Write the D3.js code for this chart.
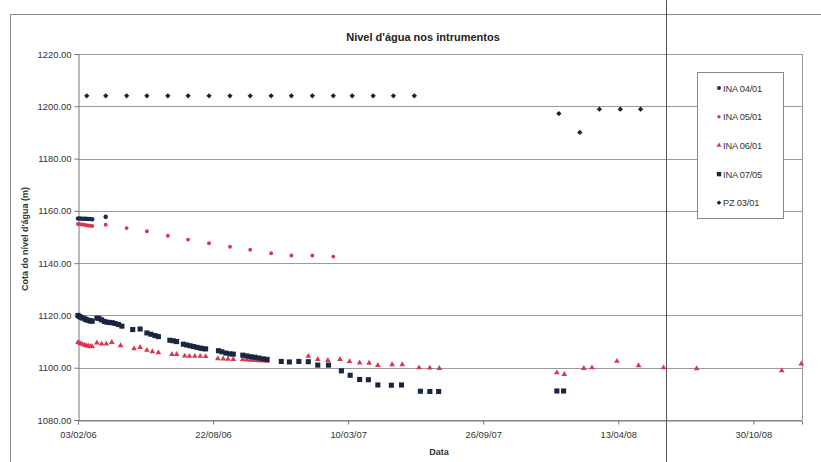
<!DOCTYPE html>
<html>
<head>
<meta charset="utf-8">
<script src="https://cdn.jsdelivr.net/npm/d3@7"></script>
<style>
  body { margin: 0; background: #fff; }
  svg { font-family: "Liberation Sans", Arial, sans-serif; }
</style>
</head>
<body>
<svg id="chart" width="821" height="462"></svg>
<script>
// tick labels
var xTickLabels = ["03/02/06", "22/08/06", "10/03/07", "26/09/07", "13/04/08", "30/10/08"];
var yTicks = [1080, 1100, 1120, 1140, 1160, 1180, 1200, 1220];
var xDomain = ["03/02/06", "10/01/09"];

// series: dates (dd/mm/yy) and levels (m)
var ina0401Dates = ["03/02/06","06/02/06","09/02/06","12/02/06","15/02/06","18/02/06","21/02/06","24/02/06","16/03/06"];
var ina0401Vals  = [1157.1,1157.1,1157.0,1157.0,1157.0,1156.9,1156.9,1156.8,1157.7];

var ina0501Dates = ["03/02/06","06/02/06","09/02/06","12/02/06","15/02/06","18/02/06","21/02/06","24/02/06",
  "16/03/06","16/04/06","16/05/06","16/06/06","16/07/06","16/08/06","16/09/06","16/10/06","16/11/06","16/12/06","16/01/07","16/02/07"];
var ina0501Vals  = [1155.0,1154.9,1154.8,1154.7,1154.5,1154.4,1154.3,1154.2,
  1154.7,1153.4,1152.2,1150.5,1149.0,1147.6,1146.3,1145.1,1143.8,1142.9,1142.9,1142.5];

var ina0601Dates = ["03/02/06","06/02/06","09/02/06","12/02/06","15/02/06","18/02/06","21/02/06","24/02/06",
  "03/03/06","10/03/06","17/03/06","25/03/06","07/04/06","27/04/06","06/05/06","16/05/06","24/05/06","02/06/06",
  "22/06/06","29/06/06","11/07/06","18/07/06","26/07/06","03/08/06","11/08/06",
  "29/08/06","06/09/06","13/09/06","21/09/06",
  "05/10/06","11/10/06","17/10/06","23/10/06","29/10/06","04/11/06","10/11/06",
  "10/01/07","24/01/07","08/02/07","26/02/07","12/03/07","27/03/07","10/04/07","23/04/07","14/05/07","29/05/07",
  "23/06/07","09/07/07","23/07/07",
  "13/01/08","24/01/08","22/02/08","05/03/08","11/04/08","13/05/08","19/06/08","07/08/08","11/12/08","09/01/09"];
var ina0601Vals  = [1109.7,1109.3,1109.0,1108.7,1108.5,1108.4,1108.2,1108.1,
  1109.5,1109.1,1109.1,1109.7,1108.5,1107.3,1107.8,1106.7,1106.2,1105.8,
  1105.1,1105.1,1104.5,1104.4,1104.4,1104.4,1104.3,
  1103.5,1103.4,1103.3,1103.2,
  1103.2,1103.0,1102.9,1102.8,1102.7,1102.6,1102.5,
  1104.4,1103.2,1102.8,1103.2,1102.4,1101.9,1101.8,1100.9,1101.2,1101.2,
  1100.0,1099.9,1099.8,
  1098.1,1097.5,1099.8,1100.0,1102.5,1100.8,1100.0,1099.7,1098.9,1101.5];

var ina0705Dates = ["03/02/06","05/02/06","07/02/06","10/02/06","13/02/06","15/02/06","17/02/06","20/02/06","22/02/06","24/02/06",
  "03/03/06","06/03/06","10/03/06","14/03/06","18/03/06","22/03/06","26/03/06","30/03/06","04/04/06","09/04/06",
  "25/04/06","06/05/06","16/05/06","22/05/06","28/05/06","02/06/06","19/06/06","24/06/06","29/06/06",
  "09/07/06","14/07/06","19/07/06","24/07/06","29/07/06","03/08/06","07/08/06","11/08/06",
  "30/08/06","04/09/06","10/09/06","16/09/06","21/09/06",
  "05/10/06","11/10/06","17/10/06","23/10/06","29/10/06","04/11/06","10/11/06",
  "01/12/06","13/12/06","27/12/06","10/01/07","24/01/07","09/02/07","28/02/07","13/03/07","27/03/07","09/04/07",
  "23/04/07","13/05/07","28/05/07","25/06/07","09/07/07","22/07/07","13/01/08","23/01/08"];
var ina0705Vals  = [1120.0,1119.6,1119.3,1119.0,1118.7,1118.4,1118.2,1118.0,1117.9,1117.8,
  1119.0,1118.8,1118.3,1117.7,1117.4,1117.3,1117.2,1116.9,1116.5,1115.9,
  1114.6,1114.8,1113.3,1112.8,1112.3,1111.9,1110.5,1110.3,1110.0,
  1109.0,1108.7,1108.4,1108.1,1107.8,1107.5,1107.3,1107.2,
  1106.5,1106.1,1105.6,1105.3,1105.2,
  1104.8,1104.5,1104.2,1104.0,1103.7,1103.4,1103.2,
  1102.4,1102.2,1102.4,1102.3,1101.0,1101.0,1098.8,1097.1,1095.5,1095.4,
  1093.4,1093.3,1093.4,1091.0,1090.9,1090.9,1091.1,1091.1];

var pz0301Dates = ["16/02/06","16/03/06","16/04/06","16/05/06","16/06/06","16/07/06","16/08/06","16/09/06","16/10/06",
  "16/11/06","16/12/06","16/01/07","16/02/07","16/03/07","16/04/07","16/05/07","16/06/07",
  "16/01/08","16/02/08","16/03/08","16/04/08","16/05/08"];
var pz0301Vals  = [1204.0,1204.0,1204.0,1204.0,1204.0,1204.0,1204.0,1204.0,1204.0,
  1204.0,1204.0,1204.0,1204.0,1204.0,1204.0,1204.0,1204.0,
  1197.2,1190.0,1198.9,1198.9,1198.9];

var seriesNames = ["INA 04/01", "INA 05/01", "INA 06/01", "INA 07/05", "PZ 03/01"];

var parse = d3.timeParse("%d/%m/%y");
var fmt = d3.timeFormat("%d/%m/%y");

// rot: rotate the marker (a square turned 45 deg gives an even diamond)
var series = [
  { name: seriesNames[0], dates: ina0401Dates, vals: ina0401Vals, color: "#1d2b4f", shape: d3.symbolCircle, size: 16, rot: 0 },
  { name: seriesNames[1], dates: ina0501Dates, vals: ina0501Vals, color: "#d8374f", shape: d3.symbolCircle, size: 12, rot: 0 },
  { name: seriesNames[2], dates: ina0601Dates, vals: ina0601Vals, color: "#d8374f", shape: d3.symbolTriangle, size: 14, rot: 0 },
  { name: seriesNames[3], dates: ina0705Dates, vals: ina0705Vals, color: "#1a2640", shape: d3.symbolSquare, size: 26, rot: 0 },
  { name: seriesNames[4], dates: pz0301Dates, vals: pz0301Vals, color: "#2a1b2c", shape: d3.symbolSquare, size: 14, rot: 45 }
];

var svg = d3.select("#chart");
var plotL = 78, plotR = 802, plotT = 54, plotB = 420;

var x = d3.scaleTime()
  .domain(xDomain.map(parse))
  .range([plotL, plotR]);
var y = d3.scaleLinear()
  .domain([1080, 1220])
  .range([plotB, plotT]);

// outer chart border
svg.append("path")
  .attr("d", "M10.5,462 V14.5 H821")
  .attr("fill", "none")
  .attr("stroke", "#888");

// gridlines
svg.append("g").selectAll("line")
  .data(yTicks)
  .enter().append("line")
  .attr("x1", plotL).attr("x2", plotR)
  .attr("y1", function(d) { return Math.round(y(d)) + 0.5; })
  .attr("y2", function(d) { return Math.round(y(d)) + 0.5; })
  .attr("stroke", "#9a9a9a");

// right edge of plot
svg.append("line")
  .attr("x1", plotR + 0.5).attr("x2", plotR + 0.5)
  .attr("y1", plotT).attr("y2", plotB)
  .attr("stroke", "#9a9a9a");

// axes
var yAxis = svg.append("g")
  .attr("transform", "translate(" + (plotL + 0.5) + ",0)")
  .call(d3.axisLeft(y).tickValues(yTicks).tickFormat(d3.format(".2f")).tickSize(4).tickPadding(3));
var xAxis = svg.append("g")
  .attr("transform", "translate(0," + (Math.round(y(1080)) + 0.5) + ")")
  .call(d3.axisBottom(x).tickValues(xTickLabels.map(parse)).tickFormat(fmt).tickSize(4).tickPadding(7));

[yAxis, xAxis].forEach(function(a) {
  a.select(".domain").attr("stroke", "#777");
  a.selectAll(".tick line").attr("stroke", "#777");
  a.selectAll(".tick text").attr("fill", "#333").style("font-size", "9.4px");
});

// points
series.forEach(function(s) {
  svg.append("g").selectAll("path")
    .data(s.dates.map(function(d, i) { return { date: parse(d), val: s.vals[i] }; }))
    .enter().append("path")
    .attr("d", d3.symbol().type(s.shape).size(s.size))
    .attr("transform", function(d) { return "translate(" + x(d.date) + "," + y(d.val) + ") rotate(" + s.rot + ")"; })
    .attr("fill", s.color);
});

// titles
svg.append("text")
  .attr("x", 423).attr("y", 41)
  .attr("text-anchor", "middle")
  .style("font-size", "11px").style("font-weight", "bold")
  .attr("fill", "#222")
  .text("Nivel d'água nos intrumentos");

svg.append("text")
  .attr("transform", "translate(28,239) rotate(-90)")
  .attr("text-anchor", "middle")
  .style("font-size", "9px").style("font-weight", "bold")
  .attr("fill", "#333")
  .text("Cota do nível d'água (m)");

svg.append("text")
  .attr("x", 439).attr("y", 455)
  .attr("text-anchor", "middle")
  .style("font-size", "9px").style("font-weight", "bold")
  .attr("fill", "#333")
  .text("Data");

// stray vertical line
svg.append("line")
  .attr("x1", 666.5).attr("x2", 666.5)
  .attr("y1", 0).attr("y2", 462)
  .attr("stroke", "#555");

// legend
var legend = svg.append("g");
legend.append("rect")
  .attr("x", 697.5).attr("y", 72.5)
  .attr("width", 86).attr("height", 146)
  .attr("fill", "#fff").attr("stroke", "#888");
series.forEach(function(s, i) {
  var ly = 88 + i * 28.7;
  legend.append("path")
    .attr("d", d3.symbol().type(s.shape).size(s.size * 0.75))
    .attr("transform", "translate(719," + ly + ") rotate(" + s.rot + ")")
    .attr("fill", s.color);
  legend.append("text")
    .attr("x", 723).attr("y", ly + 3.5)
    .style("font-size", "9.3px")
    .style("letter-spacing", "-0.2px")
    .attr("fill", "#333")
    .text(s.name);
});
</script>
</body>
</html>
